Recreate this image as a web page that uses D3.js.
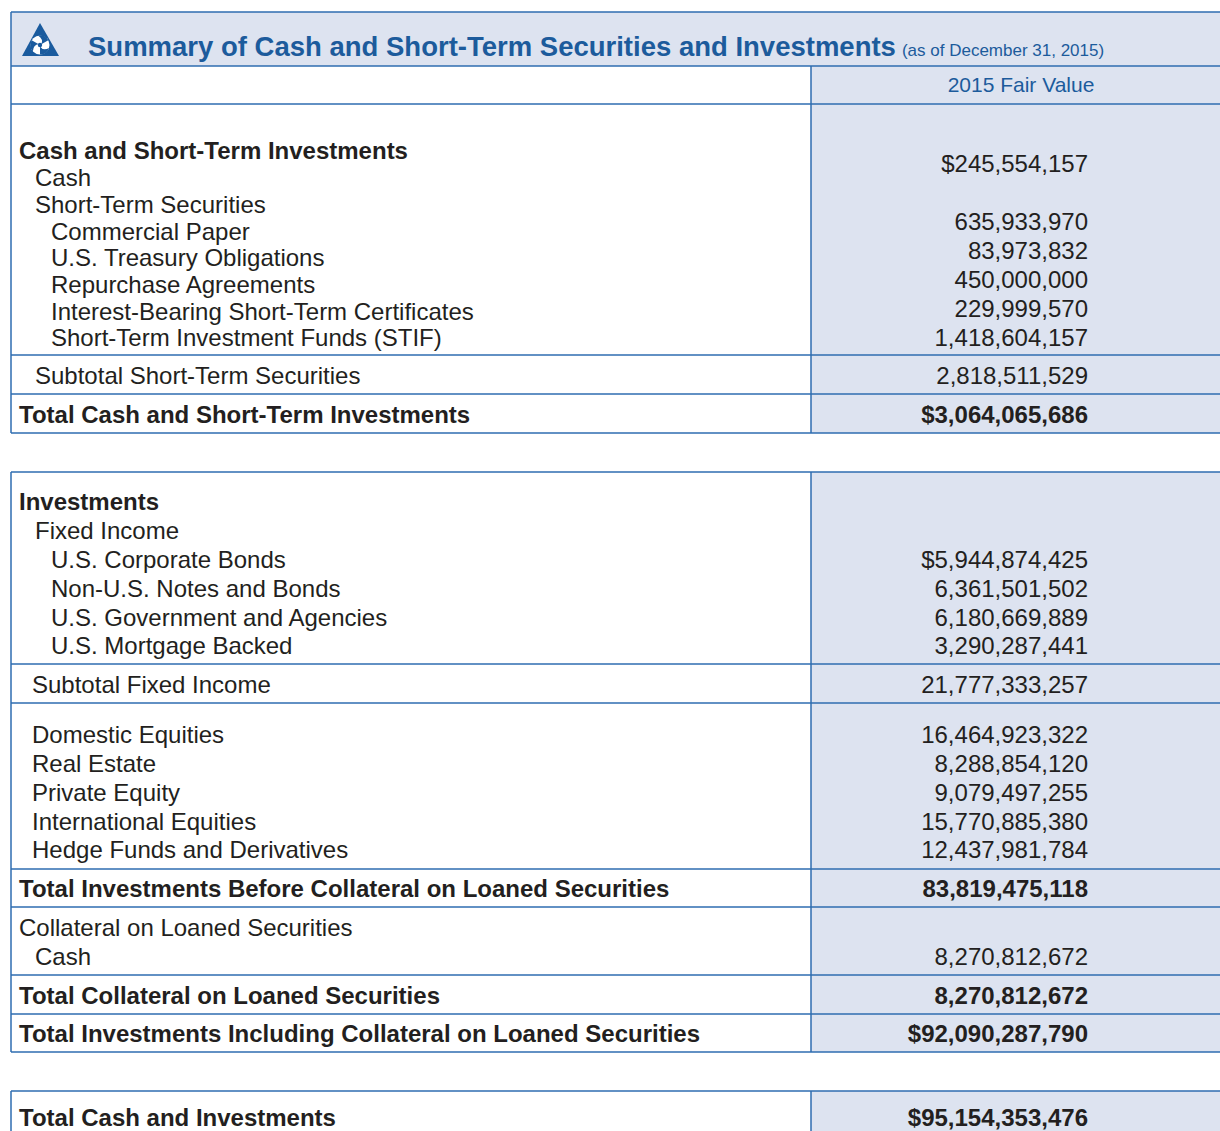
<!DOCTYPE html>
<html>
<head>
<meta charset="utf-8">
<script src="https://cdn.jsdelivr.net/npm/d3@7"></script>
<style>
  body { margin: 0; background: #fff; }
  svg text { font-family: "Liberation Sans", Arial, Helvetica, sans-serif; }
</style>
</head>
<body>
<div id="table"></div>
<script>
/*
    SUMMARY TABLE
*/
const titleText = "Summary of Cash and Short-Term Securities and Investments"
const subtitleText = "(as of December 31, 2015)"
const columnHeader = "2015 Fair Value"

// cash and short-term block
const cashLabels = ["Cash and Short-Term Investments", "Cash", "Short-Term Securities", "Commercial Paper",
    "U.S. Treasury Obligations", "Repurchase Agreements", "Interest-Bearing Short-Term Certificates",
    "Short-Term Investment Funds (STIF)"]
const cashLevels = [0, 1, 1, 2, 2, 2, 2, 2]
const cashValues = [245554157, 635933970, 83973832, 450000000, 229999570, 1418604157]

// fixed income block
const fixedLabels = ["Investments", "Fixed Income", "U.S. Corporate Bonds", "Non-U.S. Notes and Bonds",
    "U.S. Government and Agencies", "U.S. Mortgage Backed"]
const fixedLevels = [0, 1, 2, 2, 2, 2]
const fixedValues = [5944874425, 6361501502, 6180669889, 3290287441]

// other asset classes
const otherLabels = ["Domestic Equities", "Real Estate", "Private Equity", "International Equities", "Hedge Funds and Derivatives"]
const otherValues = [16464923322, 8288854120, 9079497255, 15770885380, 12437981784]

// collateral block
const collateralLabels = ["Collateral on Loaned Securities", "Cash"]
const collateralLevels = [0, 1]
const collateralValues = [8270812672]

// summary rows: label, value, bold, dollar sign
const totalRows = [
    { key: "subShort", label: "Subtotal Short-Term Securities", value: 2818511529, bold: false, dollar: false },
    { key: "totShort", label: "Total Cash and Short-Term Investments", value: 3064065686, bold: true, dollar: true },
    { key: "subFixed", label: "Subtotal Fixed Income", value: 21777333257, bold: false, dollar: false },
    { key: "totBefore", label: "Total Investments Before Collateral on Loaned Securities", value: 83819475118, bold: true, dollar: false },
    { key: "totColl", label: "Total Collateral on Loaned Securities", value: 8270812672, bold: true, dollar: false },
    { key: "totIncl", label: "Total Investments Including Collateral on Loaned Securities", value: 92090287790, bold: true, dollar: true },
    { key: "grand", label: "Total Cash and Investments", value: 95154353476, bold: true, dollar: true }
]

const drawTable = () => {
    const width = 1220, height = 1131
    const left = 11, split = 811, valueRight = 1088
    const lineColor = "#2e6db0", fillColor = "#dde3f0", textColor = "#231f20", blue = "#1c5b9c"
    const fontSize = 24
    const levelX = [19, 35, 51]
    const fmt = d3.format(",")

    const svg = d3.select("#table").append("svg")
        .attr("width", width)
        .attr("height", height)

    // boxes: each box is a stack of horizontal bands
    const boxes = [
        [{ y0: 66, y1: 104 }, { y0: 104, y1: 355 }, { y0: 355, y1: 394 }, { y0: 394, y1: 433 }],
        [{ y0: 472, y1: 664 }, { y0: 664, y1: 703 }, { y0: 703, y1: 869 }, { y0: 869, y1: 907 },
         { y0: 907, y1: 975 }, { y0: 975, y1: 1014 }, { y0: 1014, y1: 1052 }],
        [{ y0: 1091, y1: 1145 }]
    ]

    // header band
    svg.append("rect")
        .attr("x", left).attr("y", 12)
        .attr("width", width - left).attr("height", 54)
        .attr("fill", fillColor)

    // value column fill
    boxes.forEach(b => {
        svg.append("rect")
            .attr("x", split).attr("y", b[0].y0)
            .attr("width", width - split).attr("height", b[b.length - 1].y1 - b[0].y0)
            .attr("fill", fillColor)
    })

    const lines = svg.append("g")
        .attr("stroke", lineColor)
        .attr("stroke-width", 1.5)

    // horizontal rules
    const hs = [12]
    boxes.forEach(b => b.forEach(band => { hs.push(band.y0); hs.push(band.y1) }))
    Array.from(new Set(hs)).forEach(y => {
        lines.append("line").attr("x1", left).attr("x2", width).attr("y1", y).attr("y2", y)
    })
    // vertical rules
    lines.append("line").attr("x1", left).attr("x2", left).attr("y1", 12).attr("y2", 66)
    boxes.forEach(b => {
        const y0 = b[0].y0, y1 = b[b.length - 1].y1
        lines.append("line").attr("x1", left).attr("x2", left).attr("y1", y0).attr("y2", y1)
        lines.append("line").attr("x1", split).attr("x2", split).attr("y1", y0).attr("y2", y1)
    })

    // logo: triangle with a white swirl
    const logoBlue = "#1a5b9e"
    const logo = svg.append("g").attr("transform", "translate(40,45)")
    logo.append("path")
        .attr("d", "M0,-22 L19,11 L-18,11 Z")
        .attr("fill", logoBlue)
    logo.append("circle").attr("r", 9.5).attr("fill", "#fff")
    d3.range(3).forEach(i => {
        logo.append("path")
            .attr("transform", `rotate(${i * 120 - 30})`)
            .attr("d", "M1.5,0 L9.6,0 A9.6,9.6 0 0 0 3,-9.1 Q6,-3 1.5,0 Z")
            .attr("fill", logoBlue)
    })
    logo.append("circle").attr("r", 2.2).attr("fill", logoBlue)

    // title
    const title = svg.append("text")
        .attr("x", 88).attr("y", 56)
        .attr("fill", blue)
    title.append("tspan")
        .attr("font-size", 27.5).attr("font-weight", "bold")
        .text(titleText)
    title.append("tspan")
        .attr("font-size", 17).attr("dx", 6)
        .text(subtitleText)

    svg.append("text")
        .attr("x", 1021).attr("y", 85).attr("dy", "0.35em")
        .attr("text-anchor", "middle")
        .attr("font-size", 21)
        .attr("fill", blue)
        .text(columnHeader)

    const body = svg.append("g").attr("fill", textColor).attr("font-size", fontSize)

    const addLabel = (x, y, txt, bold) => body.append("text")
        .attr("x", x).attr("y", y).attr("dy", "0.35em")
        .attr("font-weight", bold ? "bold" : "normal")
        .text(txt)
    const addValue = (y, v, bold, dollar) => body.append("text")
        .attr("x", valueRight).attr("y", y).attr("dy", "0.35em")
        .attr("text-anchor", "end")
        .attr("font-weight", bold ? "bold" : "normal")
        .text((dollar ? "$" : "") + fmt(v))

    // list blocks, line positions from a linear scale on the line index
    const listBlock = (labels, levels, labelY, values, slots, valueY, boldFirst, dollarFirst, xs) => {
        labels.forEach((t, i) => addLabel(xs[levels[i]], labelY(i), t, boldFirst && i === 0))
        values.forEach((v, i) => addValue(valueY(slots[i]), v, false, dollarFirst && i === 0))
    }

    const cashLabelY = d3.scaleLinear().domain([0, 7]).range([151, 338])
    const cashValueY = d3.scaleLinear().domain([0, 6]).range([164, 338])
    listBlock(cashLabels, cashLevels, cashLabelY, cashValues, [0, 2, 3, 4, 5, 6], cashValueY, true, true, levelX)

    const fixedY = d3.scaleLinear().domain([0, 5]).range([502, 646])
    listBlock(fixedLabels, fixedLevels, fixedY, fixedValues, [2, 3, 4, 5], fixedY, true, true, levelX)

    const otherY = d3.scaleLinear().domain([0, 4]).range([735, 850])
    listBlock(otherLabels, otherLabels.map(() => 0), otherY, otherValues, otherValues.map((d, i) => i), otherY, false, false, [32])

    const collY = d3.scaleLinear().domain([0, 1]).range([928, 957])
    listBlock(collateralLabels, collateralLevels, collY, collateralValues, [1], collY, false, false, levelX)

    // single summary rows
    const rowPlace = {
        subShort: { y: 376, x: 35 },
        totShort: { y: 415, x: 19 },
        subFixed: { y: 685, x: 32 },
        totBefore: { y: 889, x: 19 },
        totColl: { y: 996, x: 19 },
        totIncl: { y: 1034, x: 19 },
        grand: { y: 1118, x: 19 }
    }
    totalRows.forEach(r => {
        const p = rowPlace[r.key]
        addLabel(p.x, p.y, r.label, r.bold)
        addValue(p.y, r.value, r.bold, r.dollar)
    })
}

drawTable()
</script>
</body>
</html>
